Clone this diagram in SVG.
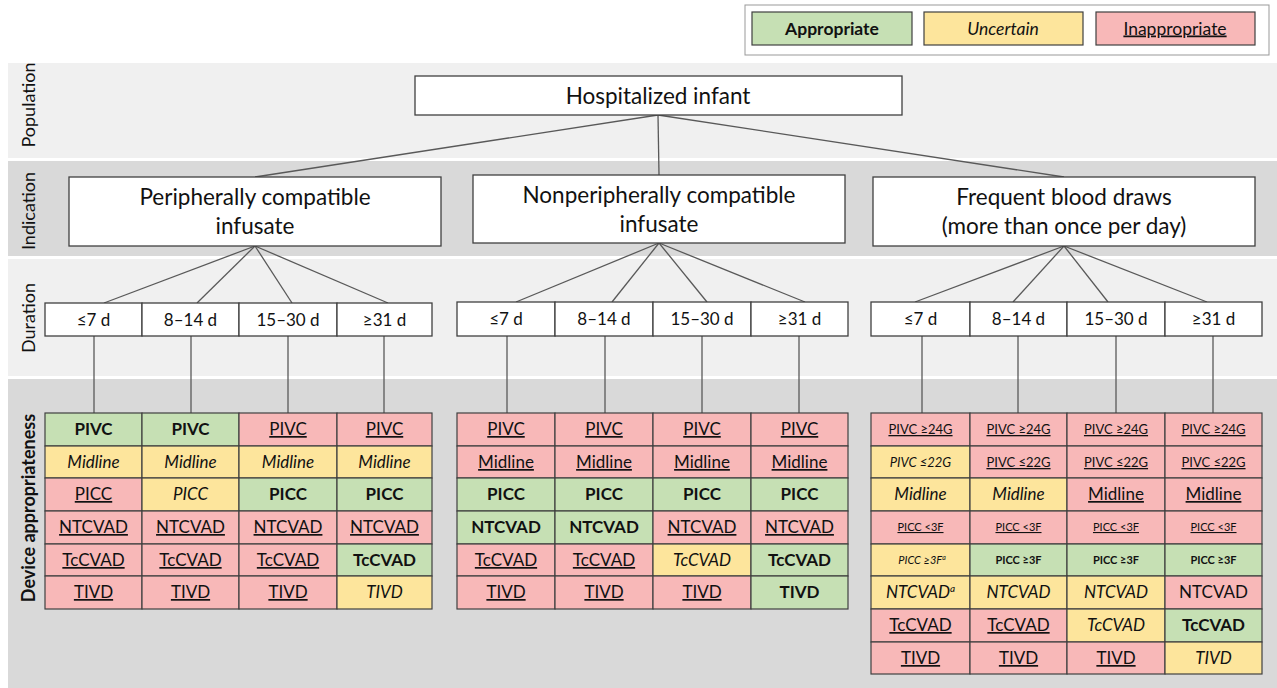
<svg xmlns="http://www.w3.org/2000/svg" width="1277" height="688" viewBox="0 0 1277 688">
<style>
text{font-family:Lato,"Liberation Sans",sans-serif;fill:#111;text-anchor:middle}
.box{fill:#fff;stroke:#404040;stroke-width:1.3}
.g{fill:#c6e0b4;stroke:#404040;stroke-width:1.2}
.y{fill:#fde59c;stroke:#404040;stroke-width:1.2}
.r{fill:#f8b8b8;stroke:#404040;stroke-width:1.2}
.ta{font-weight:bold}
.tu{font-style:italic}
.ti{text-decoration:underline}
.c{font-size:17px}
.s{font-size:13px}
.xs{font-size:11px}
.big{font-size:22.5px}
.lab{font-size:18px}
.conn line{stroke:#595959;stroke-width:1.3}
</style>
<rect width="1277" height="688" fill="#fff"/>
<!-- bands -->
<rect x="8" y="63" width="1269" height="95" fill="#f0f0f0"/>
<rect x="8" y="161" width="1269" height="95" fill="#d9d9d9"/>
<rect x="8" y="259" width="1269" height="117" fill="#f0f0f0"/>
<rect x="8" y="379" width="1269" height="309" fill="#d9d9d9"/>
<g id="band-labels" class="lab">
<text transform="translate(35,105) rotate(-90)">Population</text>
<text transform="translate(35,211) rotate(-90)">Indication</text>
<text transform="translate(35,318) rotate(-90)">Duration</text>
<text transform="translate(35,508) rotate(-90)" class="ta">Device appropriateness</text>
</g>
<!-- legend -->
<g id="legend">
<rect x="745" y="5" width="524" height="50" fill="#fff" stroke="#999" stroke-width="1"/>
<rect x="752" y="12" width="160" height="33" class="g"/>
<text x="832" y="34.5" class="ta" style="font-size:17.5px">Appropriate</text>
<rect x="924" y="12" width="159" height="33" class="y"/>
<text x="1003" y="34.5" class="tu" style="font-size:17.5px">Uncertain</text>
<rect x="1096" y="12" width="159" height="33" class="r"/>
<text x="1175" y="34.5" class="ti" style="font-size:17.5px">Inappropriate</text>
</g>
<!-- connectors -->
<g id="connectors" class="conn">
<line x1="658" y1="115" x2="255" y2="177"/>
<line x1="658" y1="115" x2="659" y2="175"/>
<line x1="658" y1="115" x2="1064" y2="177"/>
<line x1="255" y1="246" x2="104" y2="303"/>
<line x1="255" y1="246" x2="197" y2="303"/>
<line x1="255" y1="246" x2="292" y2="303"/>
<line x1="255" y1="246" x2="388" y2="303"/>
<line x1="659" y1="243" x2="516" y2="302"/>
<line x1="659" y1="243" x2="612" y2="302"/>
<line x1="659" y1="243" x2="707" y2="302"/>
<line x1="659" y1="243" x2="805" y2="302"/>
<line x1="1064" y1="246" x2="915" y2="302"/>
<line x1="1064" y1="246" x2="1013" y2="302"/>
<line x1="1064" y1="246" x2="1108" y2="302"/>
<line x1="1064" y1="246" x2="1207" y2="302"/>
<line x1="94" y1="336" x2="94" y2="413"/>
<line x1="191" y1="336" x2="191" y2="413"/>
<line x1="288" y1="336" x2="288" y2="413"/>
<line x1="384" y1="336" x2="384" y2="413"/>
<line x1="507" y1="336" x2="507" y2="413"/>
<line x1="605" y1="336" x2="605" y2="413"/>
<line x1="702" y1="336" x2="702" y2="413"/>
<line x1="799" y1="336" x2="799" y2="413"/>
<line x1="922" y1="336" x2="922" y2="413"/>
<line x1="1018" y1="336" x2="1018" y2="413"/>
<line x1="1116" y1="336" x2="1116" y2="413"/>
<line x1="1213" y1="336" x2="1213" y2="413"/>
</g>
<!-- population -->
<g id="n-population">
<rect x="415" y="76" width="487" height="39" class="box"/>
<text x="658" y="104" class="big">Hospitalized infant</text>
</g>
<!-- indication -->
<g id="n-ind1">
<rect x="69" y="177" width="372" height="69" class="box"/>
<text x="255" y="205" class="big">Peripherally compatible</text>
<text x="255" y="234" class="big">infusate</text>
</g>
<g id="n-ind2">
<rect x="473" y="175" width="372" height="68" class="box"/>
<text x="659" y="203" class="big">Nonperipherally compatible</text>
<text x="659" y="232" class="big">infusate</text>
</g>
<g id="n-ind3">
<rect x="873" y="177" width="382" height="69" class="box"/>
<text x="1064" y="205" class="big">Frequent blood draws</text>
<text x="1064" y="234" class="big">(more than once per day)</text>
</g>
<!-- durations -->
<g id="n-dur1" class="c">
<rect x="45" y="303" width="97" height="33" class="box"/><text x="93.5" y="326">≤7 d</text>
<rect x="142" y="303" width="97" height="33" class="box"/><text x="190.5" y="326">8–14 d</text>
<rect x="239" y="303" width="98" height="33" class="box"/><text x="288" y="326">15–30 d</text>
<rect x="337" y="303" width="95" height="33" class="box"/><text x="384.5" y="326">≥31 d</text>
</g>
<g id="n-dur2" class="c">
<rect x="457" y="302" width="98" height="34" class="box"/><text x="506" y="325">≤7 d</text>
<rect x="555" y="302" width="98" height="34" class="box"/><text x="604" y="325">8–14 d</text>
<rect x="653" y="302" width="98" height="34" class="box"/><text x="702" y="325">15–30 d</text>
<rect x="751" y="302" width="97" height="34" class="box"/><text x="799.5" y="325">≥31 d</text>
</g>
<g id="n-dur3" class="c">
<rect x="871" y="302" width="99" height="34" class="box"/><text x="920.5" y="325">≤7 d</text>
<rect x="970" y="302" width="97" height="34" class="box"/><text x="1018.5" y="325">8–14 d</text>
<rect x="1067" y="302" width="98" height="34" class="box"/><text x="1116" y="325">15–30 d</text>
<rect x="1165" y="302" width="97" height="34" class="box"/><text x="1213.5" y="325">≥31 d</text>
</g>
<!-- grid 1 -->
<g id="n-grid1" class="c">
<rect x="45" y="413" width="97" height="33" class="g"/><text x="93.5" y="435" class="ta">PIVC</text>
<rect x="142" y="413" width="97" height="33" class="g"/><text x="190.5" y="435" class="ta">PIVC</text>
<rect x="239" y="413" width="98" height="33" class="r"/><text x="288" y="435" class="ti">PIVC</text>
<rect x="337" y="413" width="95" height="33" class="r"/><text x="384.5" y="435" class="ti">PIVC</text>
<rect x="45" y="446" width="97" height="32" class="y"/><text x="93.5" y="468" class="tu">Midline</text>
<rect x="142" y="446" width="97" height="32" class="y"/><text x="190.5" y="468" class="tu">Midline</text>
<rect x="239" y="446" width="98" height="32" class="y"/><text x="288" y="468" class="tu">Midline</text>
<rect x="337" y="446" width="95" height="32" class="y"/><text x="384.5" y="468" class="tu">Midline</text>
<rect x="45" y="478" width="97" height="33" class="r"/><text x="93.5" y="500" class="ti">PICC</text>
<rect x="142" y="478" width="97" height="33" class="y"/><text x="190.5" y="500" class="tu">PICC</text>
<rect x="239" y="478" width="98" height="33" class="g"/><text x="288" y="500" class="ta">PICC</text>
<rect x="337" y="478" width="95" height="33" class="g"/><text x="384.5" y="500" class="ta">PICC</text>
<rect x="45" y="511" width="97" height="33" class="r"/><text x="93.5" y="533" class="ti">NTCVAD</text>
<rect x="142" y="511" width="97" height="33" class="r"/><text x="190.5" y="533" class="ti">NTCVAD</text>
<rect x="239" y="511" width="98" height="33" class="r"/><text x="288" y="533" class="ti">NTCVAD</text>
<rect x="337" y="511" width="95" height="33" class="r"/><text x="384.5" y="533" class="ti">NTCVAD</text>
<rect x="45" y="544" width="97" height="32" class="r"/><text x="93.5" y="566" class="ti">TcCVAD</text>
<rect x="142" y="544" width="97" height="32" class="r"/><text x="190.5" y="566" class="ti">TcCVAD</text>
<rect x="239" y="544" width="98" height="32" class="r"/><text x="288" y="566" class="ti">TcCVAD</text>
<rect x="337" y="544" width="95" height="32" class="g"/><text x="384.5" y="566" class="ta">TcCVAD</text>
<rect x="45" y="576" width="97" height="33" class="r"/><text x="93.5" y="598" class="ti">TIVD</text>
<rect x="142" y="576" width="97" height="33" class="r"/><text x="190.5" y="598" class="ti">TIVD</text>
<rect x="239" y="576" width="98" height="33" class="r"/><text x="288" y="598" class="ti">TIVD</text>
<rect x="337" y="576" width="95" height="33" class="y"/><text x="384.5" y="598" class="tu">TIVD</text>
</g>
<!-- grid 2 -->
<g id="n-grid2" class="c">
<rect x="457" y="413" width="98" height="33" class="r"/><text x="506" y="435" class="ti">PIVC</text>
<rect x="555" y="413" width="98" height="33" class="r"/><text x="604" y="435" class="ti">PIVC</text>
<rect x="653" y="413" width="98" height="33" class="r"/><text x="702" y="435" class="ti">PIVC</text>
<rect x="751" y="413" width="97" height="33" class="r"/><text x="799.5" y="435" class="ti">PIVC</text>
<rect x="457" y="446" width="98" height="32" class="r"/><text x="506" y="468" class="ti">Midline</text>
<rect x="555" y="446" width="98" height="32" class="r"/><text x="604" y="468" class="ti">Midline</text>
<rect x="653" y="446" width="98" height="32" class="r"/><text x="702" y="468" class="ti">Midline</text>
<rect x="751" y="446" width="97" height="32" class="r"/><text x="799.5" y="468" class="ti">Midline</text>
<rect x="457" y="478" width="98" height="33" class="g"/><text x="506" y="500" class="ta">PICC</text>
<rect x="555" y="478" width="98" height="33" class="g"/><text x="604" y="500" class="ta">PICC</text>
<rect x="653" y="478" width="98" height="33" class="g"/><text x="702" y="500" class="ta">PICC</text>
<rect x="751" y="478" width="97" height="33" class="g"/><text x="799.5" y="500" class="ta">PICC</text>
<rect x="457" y="511" width="98" height="33" class="g"/><text x="506" y="533" class="ta">NTCVAD</text>
<rect x="555" y="511" width="98" height="33" class="g"/><text x="604" y="533" class="ta">NTCVAD</text>
<rect x="653" y="511" width="98" height="33" class="r"/><text x="702" y="533" class="ti">NTCVAD</text>
<rect x="751" y="511" width="97" height="33" class="r"/><text x="799.5" y="533" class="ti">NTCVAD</text>
<rect x="457" y="544" width="98" height="32" class="r"/><text x="506" y="566" class="ti">TcCVAD</text>
<rect x="555" y="544" width="98" height="32" class="r"/><text x="604" y="566" class="ti">TcCVAD</text>
<rect x="653" y="544" width="98" height="32" class="y"/><text x="702" y="566" class="tu">TcCVAD</text>
<rect x="751" y="544" width="97" height="32" class="g"/><text x="799.5" y="566" class="ta">TcCVAD</text>
<rect x="457" y="576" width="98" height="33" class="r"/><text x="506" y="598" class="ti">TIVD</text>
<rect x="555" y="576" width="98" height="33" class="r"/><text x="604" y="598" class="ti">TIVD</text>
<rect x="653" y="576" width="98" height="33" class="r"/><text x="702" y="598" class="ti">TIVD</text>
<rect x="751" y="576" width="97" height="33" class="g"/><text x="799.5" y="598" class="ta">TIVD</text>
</g>
<!-- grid 3 -->
<g id="n-grid3" class="c">
<rect x="871" y="413" width="99" height="33" class="r"/><text x="920.5" y="434" class="ti s">PIVC ≥24G</text>
<rect x="970" y="413" width="97" height="33" class="r"/><text x="1018.5" y="434" class="ti s">PIVC ≥24G</text>
<rect x="1067" y="413" width="98" height="33" class="r"/><text x="1116" y="434" class="ti s">PIVC ≥24G</text>
<rect x="1165" y="413" width="97" height="33" class="r"/><text x="1213.5" y="434" class="ti s">PIVC ≥24G</text>
<rect x="871" y="446" width="99" height="32" class="y"/><text x="920.5" y="467" class="tu s">PIVC ≤22G</text>
<rect x="970" y="446" width="97" height="32" class="r"/><text x="1018.5" y="467" class="ti s">PIVC ≤22G</text>
<rect x="1067" y="446" width="98" height="32" class="r"/><text x="1116" y="467" class="ti s">PIVC ≤22G</text>
<rect x="1165" y="446" width="97" height="32" class="r"/><text x="1213.5" y="467" class="ti s">PIVC ≤22G</text>
<rect x="871" y="478" width="99" height="33" class="y"/><text x="920.5" y="500" class="tu">Midline</text>
<rect x="970" y="478" width="97" height="33" class="y"/><text x="1018.5" y="500" class="tu">Midline</text>
<rect x="1067" y="478" width="98" height="33" class="r"/><text x="1116" y="500" class="ti">Midline</text>
<rect x="1165" y="478" width="97" height="33" class="r"/><text x="1213.5" y="500" class="ti">Midline</text>
<rect x="871" y="511" width="99" height="33" class="r"/><text x="920.5" y="531" class="ti xs">PICC &lt;3F</text>
<rect x="970" y="511" width="97" height="33" class="r"/><text x="1018.5" y="531" class="ti xs">PICC &lt;3F</text>
<rect x="1067" y="511" width="98" height="33" class="r"/><text x="1116" y="531" class="ti xs">PICC &lt;3F</text>
<rect x="1165" y="511" width="97" height="33" class="r"/><text x="1213.5" y="531" class="ti xs">PICC &lt;3F</text>
<rect x="871" y="544" width="99" height="32" class="y"/><text x="922" y="564" class="tu xs">PICC ≥3F<tspan baseline-shift="super" style="font-size:7px">a</tspan></text>
<rect x="970" y="544" width="97" height="32" class="g"/><text x="1018.5" y="564" class="ta xs">PICC ≥3F</text>
<rect x="1067" y="544" width="98" height="32" class="g"/><text x="1116" y="564" class="ta xs">PICC ≥3F</text>
<rect x="1165" y="544" width="97" height="32" class="g"/><text x="1213.5" y="564" class="ta xs">PICC ≥3F</text>
<rect x="871" y="576" width="99" height="33" class="y"/><text x="920.5" y="598" class="tu">NTCVAD<tspan baseline-shift="super" style="font-size:10px">a</tspan></text>
<rect x="970" y="576" width="97" height="33" class="y"/><text x="1018.5" y="598" class="tu">NTCVAD</text>
<rect x="1067" y="576" width="98" height="33" class="y"/><text x="1116" y="598" class="tu">NTCVAD</text>
<rect x="1165" y="576" width="97" height="33" class="r"/><text x="1213.5" y="598">NTCVAD</text>
<rect x="871" y="609" width="99" height="33" class="r"/><text x="920.5" y="631" class="ti">TcCVAD</text>
<rect x="970" y="609" width="97" height="33" class="r"/><text x="1018.5" y="631" class="ti">TcCVAD</text>
<rect x="1067" y="609" width="98" height="33" class="y"/><text x="1116" y="631" class="tu">TcCVAD</text>
<rect x="1165" y="609" width="97" height="33" class="g"/><text x="1213.5" y="631" class="ta">TcCVAD</text>
<rect x="871" y="642" width="99" height="32" class="r"/><text x="920.5" y="664" class="ti">TIVD</text>
<rect x="970" y="642" width="97" height="32" class="r"/><text x="1018.5" y="664" class="ti">TIVD</text>
<rect x="1067" y="642" width="98" height="32" class="r"/><text x="1116" y="664" class="ti">TIVD</text>
<rect x="1165" y="642" width="97" height="32" class="y"/><text x="1213.5" y="664" class="tu">TIVD</text>
</g>
</svg>
